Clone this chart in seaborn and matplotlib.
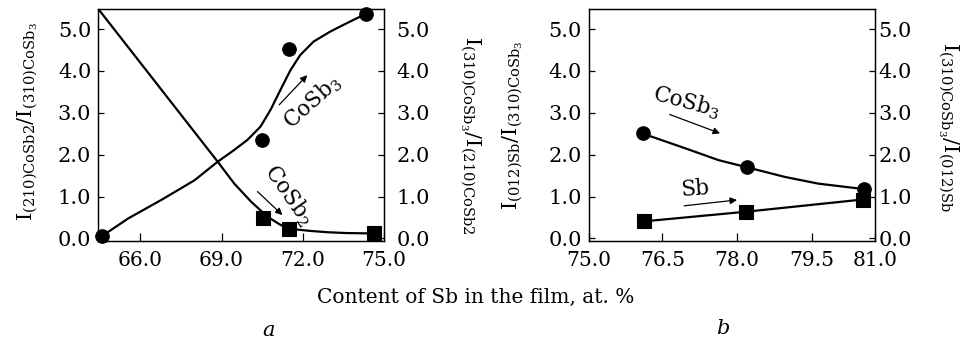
import matplotlib
matplotlib.use("Agg")
import matplotlib.pyplot as plt
import seaborn as sns

# ---------------- data: panel a ----------------
a_cosb3_x = [64.56, 70.48, 71.48, 74.33]
a_cosb3_y = [0.05, 2.34, 4.52, 5.36]
a_cosb2_x = [70.52, 71.50, 74.63]
a_cosb2_y = [0.48, 0.22, 0.13]
a_cosb3_curve_x = [64.56, 65.55, 66.77, 68.00, 68.85, 69.46, 69.95, 70.44,
                   70.81, 71.18, 71.55, 71.91, 72.40, 73.02, 73.63, 74.33]
a_cosb3_curve_y = [0.05, 0.48, 0.92, 1.39, 1.83, 2.11, 2.35, 2.67,
                   3.07, 3.55, 4.02, 4.38, 4.70, 4.94, 5.14, 5.36]
a_cosb2_curve_x = [64.44, 68.86, 69.47, 70.09, 70.70, 71.19, 71.68, 72.29,
                   72.90, 73.60, 74.63]
a_cosb2_curve_y = [5.48, 1.83, 1.31, 0.88, 0.52, 0.32, 0.22, 0.18,
                   0.15, 0.13, 0.12]
a_xticks = [66.0, 69.0, 72.0, 75.0]
a_xticklabels = ["66.0", "69.0", "72.0", "75.0"]

# ---------------- data: panel b ----------------
b_cosb3_x = [76.12, 78.20, 80.54]
b_cosb3_y = [2.53, 1.70, 1.18]
b_sb_x = [76.14, 78.19, 80.52]
b_sb_y = [0.41, 0.64, 0.93]
b_cosb3_curve_x = [76.12, 76.24, 76.97, 77.63, 78.20, 78.96, 79.63, 80.54]
b_cosb3_curve_y = [2.53, 2.45, 2.15, 1.87, 1.70, 1.47, 1.31, 1.18]
b_xticks = [75.03, 76.5, 78.0, 79.5, 80.77]
b_xticklabels = ["75.0", "76.5", "78.0", "79.5", "81.0"]

y_ticks = [0.0, 1.0, 2.0, 3.0, 4.0, 5.0]
y_ticklabels = ["0.0", "1.0", "2.0", "3.0", "4.0", "5.0"]

sns.set_theme(style="ticks")
plt.rcParams["font.family"] = ["DejaVu Serif"]
plt.rcParams["mathtext.fontset"] = "dejavuserif"
plt.rcParams["text.color"] = "black"
plt.rcParams["axes.edgecolor"] = "black"
plt.rcParams["xtick.color"] = "black"
plt.rcParams["ytick.color"] = "black"
plt.rcParams["axes.linewidth"] = 0.9

fig = plt.figure(figsize=(9.62, 3.4), dpi=100)
ax1 = fig.add_axes([0.1022, 0.2912, 0.2967, 0.6824])
ax2 = fig.add_axes([0.6123, 0.2912, 0.2973, 0.6824])

LW = 1.6
MS = 95
YFS = 15
XFS = 14.5
AFS = 15.5


def setup(ax, xlim, xticks, xlabels, rpad):
    ax.set_xlim(*xlim)
    ax.set_ylim(-0.06, 5.48)
    ax.set_xticks(xticks)
    ax.set_xticklabels(xlabels)
    ax.set_yticks(y_ticks)
    ax.set_yticklabels(y_ticklabels)
    ax.tick_params(axis="x", direction="in", length=5.5, width=0.9, pad=7,
                   labelsize=XFS, top=False)
    ax.tick_params(axis="y", direction="in", length=4.5, width=0.9, pad=5,
                   labelsize=YFS, left=True, right=False)
    ax.set_xlabel("")
    ax.set_ylabel("")
    axr = ax.twinx()
    axr.set_ylim(-0.06, 5.48)
    axr.set_yticks(y_ticks)
    axr.set_yticklabels(y_ticklabels)
    axr.tick_params(axis="y", direction="in", length=4.5, width=0.9, pad=rpad,
                    labelsize=YFS)
    for s in axr.spines.values():
        s.set_linewidth(0.9)
    return axr


def arrow(ax, start, end):
    ax.annotate("", xy=end, xytext=start,
                arrowprops=dict(arrowstyle="-|>", color="black", lw=0.9,
                                mutation_scale=10, shrinkA=0, shrinkB=0))


# ---------------- panel a ----------------
sns.lineplot(x=a_cosb3_curve_x, y=a_cosb3_curve_y, ax=ax1, color="black",
             lw=LW, sort=False, estimator=None)
sns.lineplot(x=a_cosb2_curve_x, y=a_cosb2_curve_y, ax=ax1, color="black",
             lw=LW, sort=False, estimator=None)
sns.scatterplot(x=a_cosb3_x, y=a_cosb3_y, ax=ax1, marker="o", s=MS,
                color="black", edgecolor="black", clip_on=False, zorder=5)
sns.scatterplot(x=a_cosb2_x, y=a_cosb2_y, ax=ax1, marker="s", s=MS,
                color="black", edgecolor="black", clip_on=False, zorder=5)
a_r = setup(ax1, (64.44, 75.0), a_xticks, a_xticklabels, rpad=9)

ax1.text(72.35, 3.25, r"CoSb$_3$", rotation=42, fontsize=AFS,
         ha="center", va="center")
arrow(ax1, (71.13, 3.19), (72.17, 3.90))
ax1.text(71.5, 1.04, r"CoSb$_2$", rotation=-55, fontsize=AFS,
         ha="center", va="center")
arrow(ax1, (70.33, 1.12), (71.25, 0.56))

# ---------------- panel b ----------------
sns.lineplot(x=b_cosb3_curve_x, y=b_cosb3_curve_y, ax=ax2, color="black",
             lw=LW, sort=False, estimator=None)
sns.lineplot(x=b_sb_x, y=b_sb_y, ax=ax2, color="black", lw=LW, sort=False,
             estimator=None)
sns.scatterplot(x=b_cosb3_x, y=b_cosb3_y, ax=ax2, marker="o", s=MS,
                color="black", edgecolor="black", clip_on=False, zorder=5)
sns.scatterplot(x=b_sb_x, y=b_sb_y, ax=ax2, marker="s", s=MS,
                color="black", edgecolor="black", clip_on=False, zorder=5)
b_r = setup(ax2, (75.03, 80.77), b_xticks, b_xticklabels, rpad=2.5)

ax2.text(76.99, 3.27, r"CoSb$_3$", rotation=-15, fontsize=AFS,
         ha="center", va="center")
arrow(ax2, (76.65, 2.96), (77.66, 2.51))
ax2.text(77.15, 1.18, "Sb", rotation=4, fontsize=AFS,
         ha="center", va="center")
arrow(ax2, (76.94, 0.78), (78.0, 0.92))

# ---------------- axis labels ----------------
W, H = 962.0, 340.0
LFS = 15
fig.text(28 / W, 1 - 122 / H,
         r"I$_{(210)\mathrm{CoSb2}}$/I$_{(310)\mathrm{CoSb_3}}$",
         rotation=90, ha="center", va="center", fontsize=LFS)
fig.text(470 / W, 1 - 135 / H,
         r"I$_{(310)\mathrm{CoSb_3}}$/I$_{(210)\mathrm{CoSb2}}$",
         rotation=270, ha="center", va="center", fontsize=LFS)
fig.text(513 / W, 1 - 125 / H,
         r"I$_{(012)\mathrm{Sb}}$/I$_{(310)\mathrm{CoSb_3}}$",
         rotation=90, ha="center", va="center", fontsize=LFS)
fig.text(948 / W, 1 - 127 / H,
         r"I$_{(310)\mathrm{CoSb_3}}$/I$_{(012)\mathrm{Sb}}$",
         rotation=270, ha="center", va="center", fontsize=LFS)

fig.text(476 / W, 1 - 297 / H, "Content of Sb in the film, at. %",
         ha="center", va="center", fontsize=14.5)
fig.text(269 / W, 1 - 330 / H, "a", ha="center", va="center",
         fontsize=15, style="italic")
fig.text(723 / W, 1 - 328 / H, "b", ha="center", va="center",
         fontsize=15, style="italic")

fig.savefig("out.png", dpi=100)
